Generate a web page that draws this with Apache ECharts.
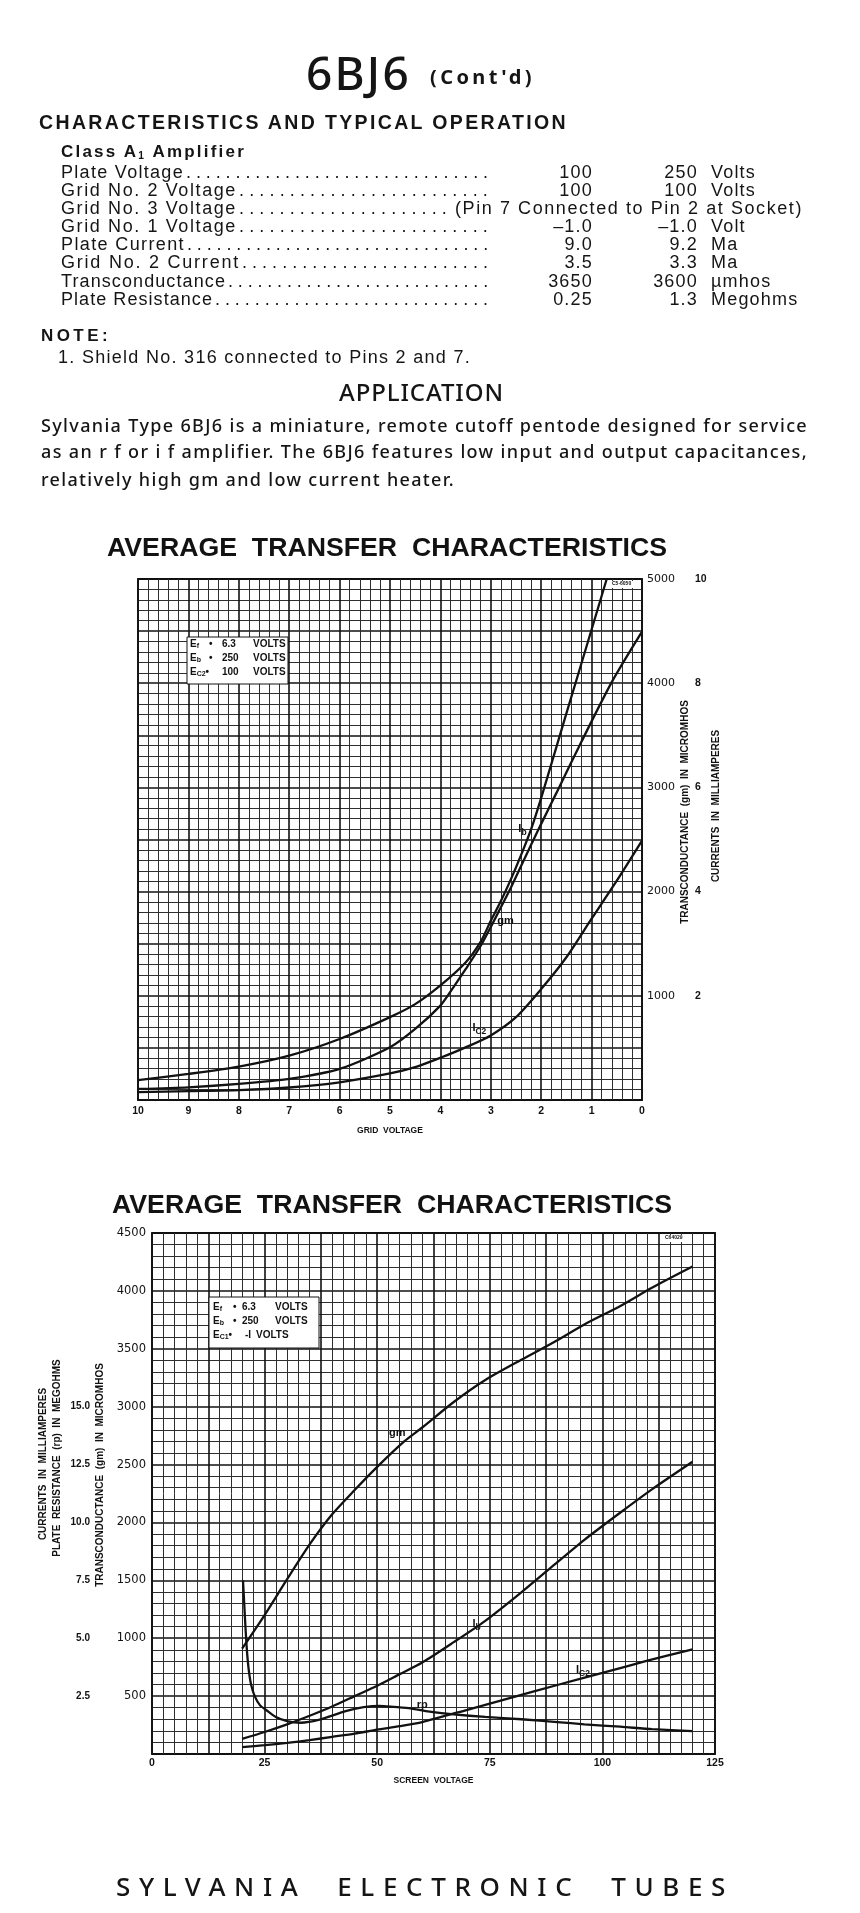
<!DOCTYPE html>
<html><head><meta charset="utf-8">
<script src="https://cdn.jsdelivr.net/npm/echarts@6/dist/echarts.min.js"></script>
<style>
body{margin:0;width:860px;height:1913px;background:#fff;position:relative;overflow:hidden}
#chart{position:absolute;left:0;top:0;width:860px;height:1913px}
.t{position:absolute;white-space:pre;color:#151515;z-index:2}
sub{font-size:60%;vertical-align:-2px;line-height:0}
</style></head>
<body>
<div id="chart"></div>
<script>
// ---------------- DATA ----------------
// Chart 1: grid voltage (negative volts, shown as magnitude)
const c1IbX   = [10, 9, 8, 7, 6, 5, 4.5, 4, 3.5, 3.2, 3, 2.8, 2.6, 2.4, 2.2, 2.0, 1.5, 1.0, 0.7];
const c1IbMa  = [0.38, 0.50, 0.64, 0.85, 1.17, 1.59, 1.84, 2.20, 2.64, 3.04, 3.44, 3.82, 4.24, 4.70, 5.20, 5.80, 7.42, 9.03, 10.0];
const c1GmX   = [10, 9, 8, 7, 6, 5, 4.5, 4, 3.8, 3.5, 3.2, 3, 2.8, 2.6, 2.2, 2.0, 1.7, 1.2, 0.6, 0];
const c1Gm    = [106, 122, 154, 202, 298, 506, 682, 906, 1040, 1255, 1480, 1660, 1850, 2040, 2450, 2650, 2945, 3440, 4010, 4494];
const c1Ic2X  = [10, 9, 8, 7, 6, 5, 4.5, 4, 3.5, 3, 2.5, 2, 1.5, 1, 0.5, 0];
const c1Ic2Ma = [0.15, 0.17, 0.19, 0.24, 0.34, 0.51, 0.63, 0.81, 1.01, 1.24, 1.59, 2.13, 2.74, 3.48, 4.21, 4.98];
// Chart 2: screen voltage
const c2GmX   = [20, 25, 30, 35, 40, 45, 50, 56, 60, 67, 74, 82, 89, 96, 104, 111, 120];
const c2Gm    = [910, 1200, 1510, 1810, 2070, 2280, 2480, 2700, 2820, 3040, 3230, 3405, 3552, 3710, 3870, 4027, 4210];
const c2IbX   = [20, 25, 30, 35, 40, 45, 50, 55, 60, 67, 74, 82, 89, 96, 104, 111, 120];
const c2IbMa  = [0.65, 0.95, 1.28, 1.65, 2.05, 2.5, 2.95, 3.45, 3.95, 4.83, 5.75, 6.98, 8.12, 9.25, 10.43, 11.43, 12.62];
const c2Ic2X  = [20, 25, 30, 35, 40, 45, 50, 55, 60, 70, 80, 90, 100, 110, 120];
const c2Ic2Ma = [0.3, 0.38, 0.48, 0.6, 0.74, 0.88, 1.05, 1.2, 1.38, 1.91, 2.45, 2.98, 3.5, 4.03, 4.52];
const c2RpX   = [20.2, 20.5, 20.8, 21.1, 21.5, 22, 22.8, 24, 25.5, 27.5, 30, 33, 37, 43, 47, 50.5, 53, 57, 62, 67, 74, 82, 90, 96, 104, 111, 120];
const c2RpMeg = [7.5, 6.4, 5.3, 4.4, 3.6, 3.0, 2.5, 2.1, 1.88, 1.6, 1.42, 1.35, 1.47, 1.85, 2.02, 2.08, 2.05, 1.98, 1.82, 1.71, 1.6, 1.5, 1.38, 1.28, 1.18, 1.07, 0.99];

// table text
const rowLabels = ['Plate Voltage','Grid No. 2 Voltage','Grid No. 3 Voltage','Grid No. 1 Voltage','Plate Current','Grid No. 2 Current','Transconductance','Plate Resistance'];
const col1 = ['100','100','','–1.0','9.0','3.5','3650','0.25'];
const col2 = ['250','100','','–1.0','9.2','3.3','3600','1.3'];
const units = ['Volts','Volts','','Volt','Ma','Ma','µmhos','Megohms'];
const pinText = '(Pin 7 Connected to Pin 2 at Socket)';
const paraLines = ['Sylvania Type 6BJ6 is a miniature, remote cutoff pentode designed for service',
                   'as an r f or i f amplifier. The 6BJ6 features low input and output capacitances,',
                   'relatively high gm and low current heater.'];

// ---------------- HTML TEXT ----------------
const F_HEAD = "'Noto Sans','Lato',sans-serif";
const F_BOLD = "'Liberation Sans',Arial,sans-serif";
const F_TAB  = "'Liberation Sans',Arial,sans-serif";
function txt(s, x, yc, o){
  const d=document.createElement('div'); d.className='t';
  if(o.html) d.innerHTML=s; else d.textContent=s;
  d.style.fontFamily=o.f||F_TAB; d.style.fontSize=o.size+'px';
  d.style.fontWeight=o.w||'normal'; d.style.lineHeight=o.size+'px';
  d.style.top=(yc-o.size/2)+'px'; d.style.left='0px';
  if(o.ls!==undefined) d.style.letterSpacing=o.ls+'px';
  document.body.appendChild(d);
  if(o.width){const w0=d.getBoundingClientRect().width; const n=[...d.textContent].length;
    d.style.letterSpacing=((o.width-w0)/n)+'px';}
  const w=d.getBoundingClientRect().width;
  d.style.left=(o.align==='right'?x-w:o.align==='center'?x-w/2:x)+'px';
  return d;
}
txt('6BJ6',306,72,{f:F_HEAD,size:46,w:500,width:105});
txt("(Cont'd)",430,77,{f:F_HEAD,size:20,w:700,width:105});
txt('CHARACTERISTICS AND TYPICAL OPERATION',39,123,{f:F_BOLD,size:19.5,w:'bold',width:529});
txt('Class A<sub>1</sub> Amplifier',61,151,{f:F_BOLD,size:17,w:'bold',width:185,html:true});
const rowY=[172,190,208,226,244,262,281,299];
const labelW=[123,176,176,176,124,179,165,152];
rowLabels.forEach((s,i)=>{
  txt(s,61,rowY[i],{size:18,width:labelW[i]});
  const start=61+labelW[i]+2, end=(i===2?452:493);
  const n=Math.max(1,Math.round((end-start)/10));
  txt('.'.repeat(n),start,rowY[i],{size:18,width:end-start});
  if(i===2){ txt(pinText,455,rowY[i],{size:18,width:348}); return; }
  txt(col1[i],593,rowY[i],{size:18,ls:1.2,align:'right'});
  txt(col2[i],698,rowY[i],{size:18,ls:1.2,align:'right'});
  txt(units[i],711,rowY[i],{size:18,ls:1.2});
});
txt('NOTE:',41,335,{f:F_BOLD,size:17,w:'bold',width:70});
txt('1. Shield No. 316 connected to Pins 2 and 7.',58,357,{size:18,width:413});
txt('APPLICATION',339,392,{f:F_HEAD,size:24,w:500,width:165});
const paraY=[425,451,479], paraW=[767,767,414];
paraLines.forEach((s,i)=>txt(s,41,paraY[i],{f:F_HEAD,size:18,w:500,width:paraW[i]}));
txt('SYLVANIA  ELECTRONIC  TUBES',116,1886,{f:F_HEAD,size:26,w:500,width:618});

// ---------------- CHART ----------------
const F = "'Liberation Sans',Arial,sans-serif";
const INK = '#121212';
const zip=(xs,ys)=>xs.map((x,i)=>[x,ys[i]]);
const major={show:true,lineStyle:{color:'#111',width:1.6}};
const minor={show:true,lineStyle:{color:'#2e2e2e',width:1}};
const rich={n:{fontSize:11,fontWeight:'bold',fontFamily:F,color:INK},
            s:{fontSize:8.5,fontWeight:'bold',fontFamily:F,color:INK,padding:[7,0,0,0]}};
function mark(x,y,label,pos,off){
  return {symbol:'circle',symbolSize:1,silent:true,itemStyle:{color:'rgba(0,0,0,0)'},
    label:{show:true,position:pos,offset:off,distance:4,formatter:label,rich:rich},
    data:[{coord:[x,y]}]};
}
function line(name,xi,yi,data,mp,sm){
  return {name,type:'line',xAxisIndex:xi,yAxisIndex:yi,data,showSymbol:false,
    smooth:sm===undefined?0.25:sm,clip:true,
    lineStyle:{color:INK,width:2.3},markPoint:mp,z:5};
}
const lab={fontFamily:F,color:INK};
function legendBox(x,y,w,h,rows){
  const els=[{type:'rect',shape:{x,y,width:w,height:h},style:{fill:'#fff',stroke:INK,lineWidth:1},z:10}];
  rows.forEach(r=>r.parts.forEach(p=>els.push({type:'text',x:p[0],y:r.y,z:11,
    style:{text:p[1],fontSize:10,fontWeight:'bold',fontFamily:F,fill:INK,verticalAlign:'middle',
      rich:{s:{fontSize:7,fontWeight:'bold',fontFamily:F,fill:INK,padding:[5,0,0,0]}}}})));
  return els;
}
function vtext(s,x,y){
  return {type:'text',x,y,rotation:Math.PI/2,z:10,
    style:{text:s,fontSize:10,fontWeight:'bold',fontFamily:F,fill:INK,align:'center',verticalAlign:'middle'}};
}

const chart=echarts.init(document.getElementById('chart'),null,{renderer:'canvas'});
chart.setOption({
  animation:false,
  backgroundColor:'transparent',
  title:[
    {text:'AVERAGE  TRANSFER  CHARACTERISTICS',left:107,top:535,padding:0,
     textStyle:{fontSize:26.7,fontWeight:'bold',fontFamily:F,color:INK,lineHeight:27}},
    {text:'AVERAGE  TRANSFER  CHARACTERISTICS',left:112,top:1192,padding:0,
     textStyle:{fontSize:26.7,fontWeight:'bold',fontFamily:F,color:INK,lineHeight:27}}
  ],
  grid:[
    {left:138,top:579,width:504,height:521,show:true,borderColor:INK,borderWidth:1.8,backgroundColor:'transparent'},
    {left:152,top:1233,width:563,height:521,show:true,borderColor:INK,borderWidth:1.8,backgroundColor:'transparent'}
  ],
  xAxis:[
    {gridIndex:0,type:'value',min:0,max:10,interval:1,inverse:true,
     axisLine:{show:false},axisTick:{show:false},
     axisLabel:{...lab,fontSize:10.5,fontWeight:'bold',margin:6,showMinLabel:true,showMaxLabel:true},
     splitLine:major,minorTick:{show:false,splitNumber:5},minorSplitLine:minor,
     name:'GRID  VOLTAGE',nameLocation:'middle',nameGap:26,
     nameTextStyle:{fontFamily:F,fontSize:8.5,fontWeight:'bold',color:INK}},
    {gridIndex:1,type:'value',min:0,max:125,interval:12.5,
     axisLine:{show:false},axisTick:{show:false},
     axisLabel:{...lab,fontSize:10.5,fontWeight:'bold',margin:4,showMinLabel:true,showMaxLabel:true,
       formatter:v=>(v%25===0?String(v):'')},
     splitLine:major,minorTick:{show:false,splitNumber:5},minorSplitLine:minor,
     name:'SCREEN  VOLTAGE',nameLocation:'middle',nameGap:22,
     nameTextStyle:{fontFamily:F,fontSize:8.5,fontWeight:'bold',color:INK}}
  ],
  yAxis:[
    {gridIndex:0,type:'value',position:'right',min:0,max:5000,interval:500,
     axisLine:{show:false},axisTick:{show:false},
     axisLabel:{fontFamily:"'DejaVu Sans',sans-serif",color:INK,fontSize:11,margin:5,
       formatter:v=>(v>0&&v%1000===0?String(v):'')},
     splitLine:major,minorTick:{show:false,splitNumber:5},minorSplitLine:minor},
    {gridIndex:0,type:'value',position:'right',offset:45,min:0,max:10,interval:2,
     axisLine:{show:false},axisTick:{show:false},splitLine:{show:false},
     axisLabel:{...lab,fontSize:10.5,fontWeight:'bold',margin:8,formatter:v=>(v>0?String(v):'')}},
    {gridIndex:1,type:'value',position:'left',min:0,max:4500,interval:500,
     axisLine:{show:false},axisTick:{show:false},
     axisLabel:{fontFamily:"'DejaVu Sans',sans-serif",color:INK,fontSize:11.5,margin:6,
       formatter:v=>(v>0?String(v):'')},
     splitLine:major,minorTick:{show:false,splitNumber:5},minorSplitLine:minor},
    {gridIndex:1,type:'value',position:'left',offset:56,min:0,max:22.5,interval:2.5,
     axisLine:{show:false},axisTick:{show:false},splitLine:{show:false},
     axisLabel:{...lab,fontSize:10,fontWeight:'bold',margin:6,
       formatter:v=>(v>0&&v<=15?v.toFixed(1):'')}}
  ],
  series:[
    line('Ib',0,1,zip(c1IbX,c1IbMa),mark(c1IbX[14],c1IbMa[14],'{n|I}{s|b}','left',[0,0])),
    line('gm',0,0,zip(c1GmX,c1Gm),mark(c1GmX[11],c1Gm[11],'{n|gm}','right',[2,-6])),
    line('Ic2',0,1,zip(c1Ic2X,c1Ic2Ma),mark(c1Ic2X[9],c1Ic2Ma[9],'{n|I}{s|C2}','left',[0,-7])),
    line('gm',1,2,zip(c2GmX,c2Gm),mark(c2GmX[7],c2Gm[7],'{n|gm}','top',[-7,2])),
    line('Ib',1,3,zip(c2IbX,c2IbMa),mark(c2IbX[10],c2IbMa[10],'{n|I}{s|b}','left',[0,3])),
    line('Ic2',1,3,zip(c2Ic2X,c2Ic2Ma),mark(c2Ic2X[12],c2Ic2Ma[12],'{n|I}{s|C2}','left',[-8,-3])),
    line('rp',1,3,zip(c2RpX,c2RpMeg),mark(c2RpX[18],c2RpMeg[18],'{n|rp}','top',[-9,3]),0.2)
  ],
  graphic:[
    ...legendBox(187,637,101,47,[
      {y:644,parts:[[190,'E{s|f}'],[209,'•'],[222,'6.3'],[253,'VOLTS']]},
      {y:658,parts:[[190,'E{s|b}'],[209,'•'],[222,'250'],[253,'VOLTS']]},
      {y:672,parts:[[190,'E{s|C2}•'],[222,'100'],[253,'VOLTS']]}]),
    ...legendBox(209,1297,110,51,[
      {y:1307,parts:[[213,'E{s|f}'],[233,'•'],[242,'6.3'],[275,'VOLTS']]},
      {y:1321,parts:[[213,'E{s|b}'],[233,'•'],[242,'250'],[275,'VOLTS']]},
      {y:1335,parts:[[213,'E{s|C1}•'],[245,'-I'],[256,'VOLTS']]}]),
    {type:'rect',shape:{x:611,y:581,width:29,height:7},style:{fill:'#fff'},z:9},
    {type:'text',x:612,y:584,z:10,style:{text:'C5-6050',fontSize:5,fontWeight:'bold',fontFamily:F,fill:INK,verticalAlign:'middle'}},
    {type:'rect',shape:{x:663,y:1235,width:28,height:7},style:{fill:'#fff'},z:9},
    {type:'text',x:665,y:1238,z:10,style:{text:'C64029',fontSize:5,fontWeight:'bold',fontFamily:F,fill:INK,verticalAlign:'middle'}},
    vtext('TRANSCONDUCTANCE  (gm)  IN  MICROMHOS',685,812),
    vtext('CURRENTS  IN  MILLIAMPERES',716,806),
    vtext('CURRENTS  IN  MILLIAMPERES',43,1464),
    vtext('PLATE  RESISTANCE  (rp)  IN  MEGOHMS',57,1458),
    vtext('TRANSCONDUCTANCE  (gm)  IN  MICROMHOS',100,1475)
  ]
});
</script>
</body></html>
